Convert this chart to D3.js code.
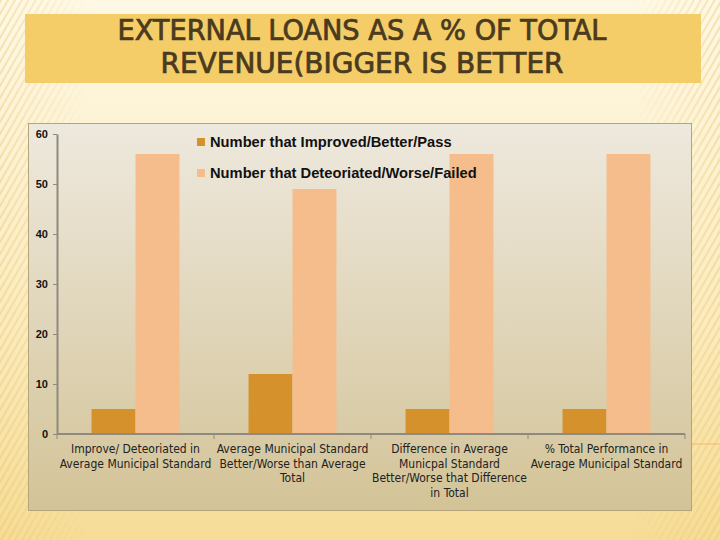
<!DOCTYPE html>
<html>
<head>
<meta charset="utf-8">
<script src="https://cdn.jsdelivr.net/npm/d3@7"></script>
<style>
  html, body { margin: 0; padding: 0; }
  body { width: 720px; height: 540px; overflow: hidden; }
  text { font-family: "Liberation Sans", Arial, sans-serif; }
</style>
</head>
<body>
<div id="chart"></div>
<script>
// DATA
const categories = [
  ['Improve/ Deteoriated in', 'Average Municipal Standard'],
  ['Average Municipal Standard', 'Better/Worse than Average', 'Total'],
  ['Difference in Average', 'Municpal Standard', 'Better/Worse that Difference', 'in Total'],
  ['% Total Performance in', 'Average Municipal Standard']
];
const seriesNames = ['Number that Improved/Better/Pass', 'Number that Deteoriated/Worse/Failed'];
const improved = [5, 12, 5, 5];
const deteriorated = [56, 49, 56, 56];
const yTicks = [0, 10, 20, 30, 40, 50, 60];
const titleLines = ['EXTERNAL LOANS AS A % OF TOTAL', 'REVENUE(BIGGER IS BETTER'];

const colors = ['#D5912B', '#F6BD8C'];
const titleWidths = [489, 403];

// SVG
const width = 720, height = 540;
const svg = d3.select('#chart').append('svg')
  .attr('width', width)
  .attr('height', height);

const defs = svg.append('defs');

// slide background
const bg = defs.append('linearGradient').attr('id', 'bg')
  .attr('x1', 0).attr('y1', 0).attr('x2', 0).attr('y2', 1);
bg.append('stop').attr('offset', '0%').attr('stop-color', '#FEF8E4');
bg.append('stop').attr('offset', '60%').attr('stop-color', '#FBEBBE');
bg.append('stop').attr('offset', '100%').attr('stop-color', '#F6DC96');

const stripes = defs.append('pattern').attr('id', 'stripes')
  .attr('width', 6).attr('height', 6)
  .attr('patternUnits', 'userSpaceOnUse')
  .attr('patternTransform', 'rotate(30)');
stripes.append('rect').attr('width', 2).attr('height', 6).attr('fill', '#E8C46A').attr('opacity', 0.4);

const fade = defs.append('linearGradient').attr('id', 'fade')
  .attr('x1', 0).attr('y1', 0).attr('x2', 1).attr('y2', 0);
fade.append('stop').attr('offset', '0%').attr('stop-color', 'white').attr('stop-opacity', 1);
fade.append('stop').attr('offset', '12%').attr('stop-color', 'white').attr('stop-opacity', 0);
fade.append('stop').attr('offset', '88%').attr('stop-color', 'white').attr('stop-opacity', 0);
fade.append('stop').attr('offset', '100%').attr('stop-color', 'white').attr('stop-opacity', 1);
defs.append('mask').attr('id', 'edgeMask')
  .append('rect').attr('width', width).attr('height', height).attr('fill', 'url(#fade)');

svg.append('rect').attr('width', width).attr('height', height).attr('fill', 'url(#bg)');
svg.append('rect').attr('width', width).attr('height', height)
  .attr('fill', 'url(#stripes)').attr('mask', 'url(#edgeMask)');

// TITLE
svg.append('rect')
  .attr('x', 25).attr('y', 14).attr('width', 676).attr('height', 69)
  .attr('fill', '#F4CD68');

svg.append('g').selectAll('text')
  .data(titleLines)
  .join('text')
  .attr('x', 362)
  .attr('y', (d, i) => 40 + i * 32.5)
  .attr('text-anchor', 'middle')
  .attr('textLength', (d, i) => titleWidths[i])
  .attr('lengthAdjust', 'spacingAndGlyphs')
  .style('font-family', '"DejaVu Sans Condensed", "Liberation Sans", sans-serif')
  .style('font-size', '28px')
  .attr('fill', '#4A3A1E')
  .attr('stroke', '#4A3A1E')
  .attr('stroke-width', 0.7)
  .text(d => d);

// small decoration at the right edge
svg.append('line')
  .attr('x1', 692).attr('x2', 720).attr('y1', 444).attr('y2', 444)
  .attr('stroke', '#F2BC6A').attr('stroke-width', 1);

// CHART PANEL
const panel = defs.append('linearGradient').attr('id', 'panel')
  .attr('x1', 0).attr('y1', 0).attr('x2', 0).attr('y2', 1);
panel.append('stop').attr('offset', '0%').attr('stop-color', '#EEE9DE');
panel.append('stop').attr('offset', '100%').attr('stop-color', '#D3C397');

svg.append('rect')
  .attr('x', 28.5).attr('y', 123.5).attr('width', 663).attr('height', 387)
  .attr('fill', 'url(#panel)')
  .attr('stroke', '#B5A57A').attr('stroke-width', 1);

const plot = { left: 57, right: 685, top: 134, bottom: 434 };

const x0 = d3.scaleBand()
  .domain(d3.range(categories.length))
  .range([plot.left, plot.right])
  .paddingInner(0.44)
  .paddingOuter(0.22);

const x1 = d3.scaleBand()
  .domain([0, 1])
  .range([0, x0.bandwidth()]);

const y = d3.scaleLinear()
  .domain([0, 60])
  .range([plot.bottom, plot.top]);

// BARS
const rows = categories.map((c, i) => [improved[i], deteriorated[i]]);

svg.append('g').selectAll('g')
  .data(rows)
  .join('g')
  .attr('transform', (d, i) => `translate(${x0(i)},0)`)
  .selectAll('rect')
  .data(d => d)
  .join('rect')
  .attr('x', (d, j) => x1(j))
  .attr('width', x1.bandwidth())
  .attr('y', d => y(d))
  .attr('height', d => y(0) - y(d))
  .attr('fill', (d, j) => colors[j]);

// Y AXIS
const yAxis = svg.append('g')
  .attr('transform', `translate(${plot.left},0)`)
  .call(d3.axisLeft(y).tickValues(yTicks).tickSize(4).tickSizeOuter(0));
yAxis.select('.domain').attr('stroke', '#8E8A80').attr('stroke-width', 2);
yAxis.selectAll('.tick line').attr('stroke', '#8E8A80');
yAxis.selectAll('.tick text')
  .attr('x', -9)
  .style('font-size', '11px')
  .style('font-weight', 'bold')
  .attr('fill', '#111');

// X AXIS
const bounds = d3.range(categories.length + 1).map(i => plot.left + i * x0.step());
const xAxis = svg.append('g');
xAxis.append('line')
  .attr('x1', plot.left).attr('x2', plot.right)
  .attr('y1', plot.bottom).attr('y2', plot.bottom)
  .attr('stroke', '#8E8A80').attr('stroke-width', 2);
xAxis.selectAll('.bnd')
  .data(bounds)
  .join('line')
  .attr('class', 'bnd')
  .attr('x1', d => d).attr('x2', d => d)
  .attr('y1', plot.bottom).attr('y2', plot.bottom + 5)
  .attr('stroke', '#8E8A80');

xAxis.selectAll('.xlab')
  .data(categories)
  .join('text')
  .attr('class', 'xlab')
  .attr('text-anchor', 'middle')
  .attr('fill', '#222')
  .style('font-family', '"DejaVu Sans Condensed", "Liberation Sans", sans-serif')
  .style('font-size', '12px')
  .attr('transform', (d, i) => `translate(${x0(i) + x0.bandwidth() / 2},453)`)
  .selectAll('tspan')
  .data(d => d)
  .join('tspan')
  .attr('x', 0)
  .attr('y', (d, i) => i * 14.5)
  .text(d => d);

// LEGEND
const legend = svg.append('g').attr('transform', 'translate(197,142)');
const item = legend.selectAll('g')
  .data(seriesNames)
  .join('g')
  .attr('transform', (d, i) => `translate(0,${i * 31})`);
item.append('rect')
  .attr('x', 0).attr('y', -4).attr('width', 8).attr('height', 8)
  .attr('fill', (d, i) => colors[i]);
item.append('text')
  .attr('x', 13)
  .attr('dy', '0.36em')
  .style('font-size', '14.7px')
  .style('font-weight', 'bold')
  .attr('fill', '#111')
  .text(d => d);
</script>
</body>
</html>
